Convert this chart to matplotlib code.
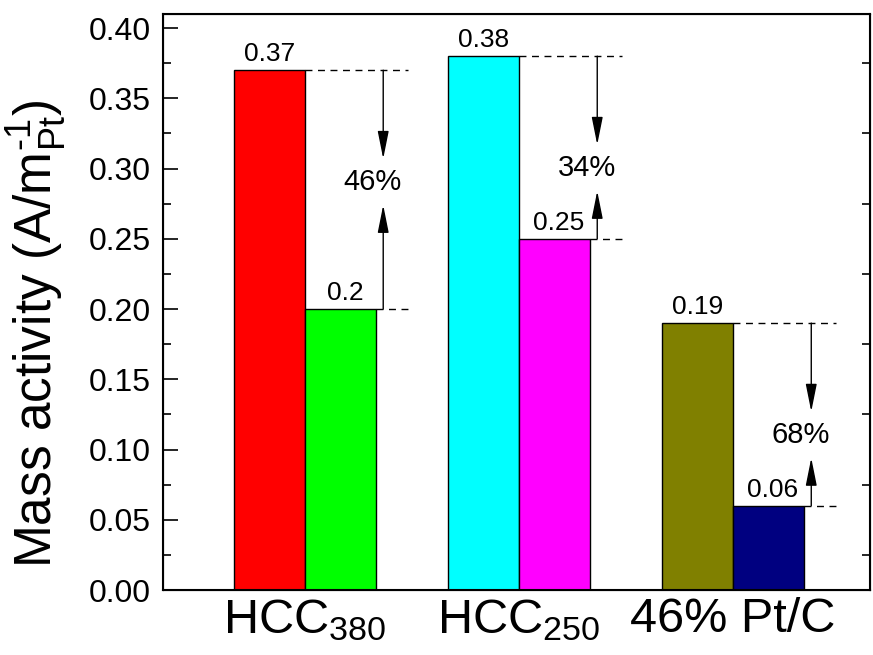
import matplotlib
matplotlib.use("Agg")
import matplotlib.pyplot as plt
import numpy as np

plt.rcParams["font.family"] = ["Liberation Sans", "DejaVu Sans"]
plt.rcParams["mathtext.fontset"] = "custom"
plt.rcParams["mathtext.rm"] = "Liberation Sans"
plt.rcParams["mathtext.it"] = "Liberation Sans"

# dados
amostras = [r"HCC$\mathregular{_{380}}$", r"HCC$\mathregular{_{250}}$", "46% Pt/C"]
antes = [0.37, 0.38, 0.19]
depois = [0.20, 0.25, 0.06]
rotulos_antes = ["0.37", "0.38", "0.19"]
rotulos_depois = ["0.2", "0.25", "0.06"]
perdas = ["46%", "34%", "68%"]

cores_antes = ["#ff0000", "#00ffff", "#808000"]
cores_depois = ["#00ff00", "#ff00ff", "#000080"]

fig = plt.figure(figsize=(8.73, 6.55), dpi=100)
ax = fig.add_axes([0.1867, 0.0992, 0.81, 0.8794])

x = np.arange(1, len(amostras) + 1)
largura = 0.332

ax.bar(x - largura / 2, antes, largura, color=cores_antes, edgecolor="black", linewidth=1)
ax.bar(x + largura / 2, depois, largura, color=cores_depois, edgecolor="black", linewidth=1)

for i in range(len(amostras)):
    ax.text(x[i] - largura / 2, antes[i] + 0.003, rotulos_antes[i],
            ha="center", va="bottom", fontsize=19)
    ax.text(x[i] + largura / 2 + 0.02, depois[i] + 0.003, rotulos_depois[i],
            ha="center", va="bottom", fontsize=19)

    # linhas tracejadas
    fim = x[i] + 0.48
    ax.plot([x[i], fim], [antes[i], antes[i]], color="black", lw=1, ls=(0, (5, 4)))
    ax.plot([x[i] + largura, fim], [depois[i], depois[i]], color="black", lw=1, ls=(0, (5, 4)))

    # setas
    xs = x[i] + 0.365
    ponta_baixo = antes[i] - 0.063
    ponta_cima = ponta_baixo - 0.033
    estilo = dict(arrowstyle="-|>,head_length=0.85,head_width=0.17", color="black",
                  lw=1, mutation_scale=20, shrinkA=0, shrinkB=0)
    ax.annotate("", xy=(xs, ponta_baixo), xytext=(xs, antes[i]), arrowprops=estilo)
    ax.annotate("", xy=(xs, ponta_cima), xytext=(xs, depois[i]), arrowprops=estilo)
    ax.text(xs - 0.05, (ponta_baixo + ponta_cima) / 2, perdas[i],
            ha="center", va="center", fontsize=21)

ax.set_xlim(0.336, 3.64)
ax.set_ylim(0, 0.41)
ax.set_xticks(x)
ax.set_xticklabels(amostras, fontsize=35)
ax.tick_params(axis="x", length=0, pad=5)

ax.set_yticks(np.arange(0, 0.41, 0.05))
ax.set_yticks(np.arange(0.025, 0.41, 0.05), minor=True)
ax.yaxis.set_major_formatter(matplotlib.ticker.FormatStrFormatter("%.2f"))
ax.tick_params(axis="y", which="major", direction="in", length=11, width=1.2, labelsize=23, pad=9)
ax.tick_params(axis="y", which="minor", direction="in", length=6, width=1.2)

ax.set_ylabel(r"Mass activity (A/m$\mathregular{^{\text{-}1}_{Pt}}$)", fontsize=37)
ax.yaxis.set_label_coords(-0.134, 0.445)

for s in ax.spines.values():
    s.set_linewidth(1.5)

ax2 = ax.twinx()
ax2.set_ylim(0, 0.41)
ax2.set_yticks(np.arange(0.025, 0.41, 0.05))
ax2.tick_params(axis="y", direction="in", length=6, width=1.2, labelright=False)

fig.savefig("out.png", dpi=100)
